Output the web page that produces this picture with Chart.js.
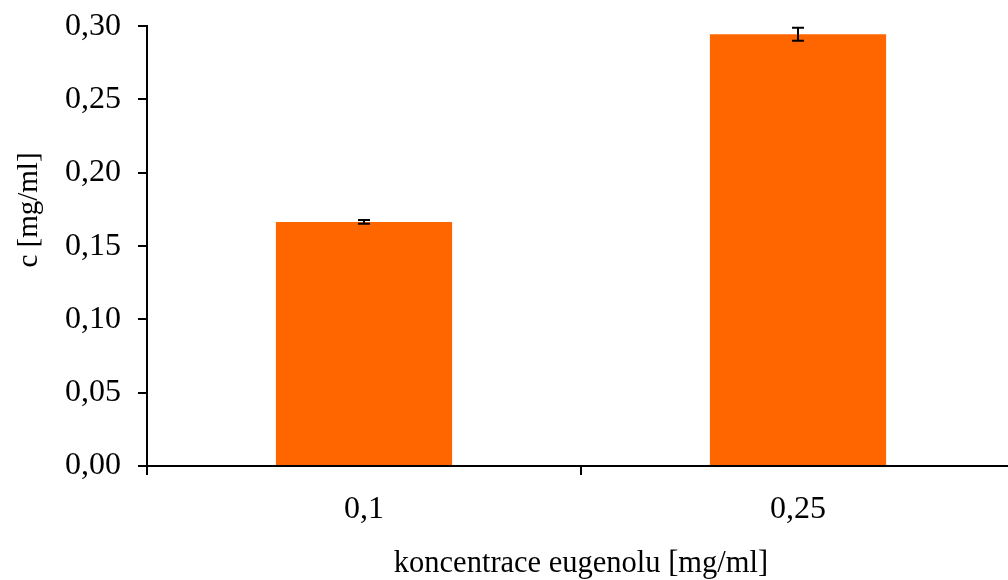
<!DOCTYPE html>
<html>
<head>
<meta charset="utf-8">
<script src="https://cdn.jsdelivr.net/npm/chart.js@4/dist/chart.umd.min.js"></script>
<style>
  html, body { margin: 0; padding: 0; background: #fff; overflow: hidden; }
  #wrap { width: 1016px; height: 580px; overflow: hidden; }
  #chart { display: block; margin-top: -10px; }
</style>
</head>
<body>
<div id="wrap"><canvas id="chart" width="1016" height="590"></canvas></div>
<script>
/* data */
const categories = ["0,1", "0,25"];
const values = [0.1665, 0.2945];
const errors = [0.0013, 0.0045];
const yTicks = [0, 0.05, 0.10, 0.15, 0.20, 0.25, 0.30];
const xTitle = "koncentrace eugenolu [mg/ml]";
const yTitle = "c [mg/ml]";

const FONT = "'Liberation Serif', 'Times New Roman', serif";
const fmt = v => v.toFixed(2).replace(".", ",");

/* error bars drawn from the y scale */
const errorBars = {
    id: "errorBars",
    afterDatasetsDraw(chart) {
        const ctx = chart.ctx;
        const y = chart.scales.y;
        const meta = chart.getDatasetMeta(0);
        ctx.save();
        ctx.strokeStyle = "#000";
        ctx.lineWidth = 2;
        meta.data.forEach((bar, i) => {
            const top = y.getPixelForValue(values[i] + errors[i]);
            const bot = y.getPixelForValue(values[i] - errors[i]);
            ctx.beginPath();
            ctx.moveTo(bar.x, top); ctx.lineTo(bar.x, bot);
            ctx.moveTo(bar.x - 6, top); ctx.lineTo(bar.x + 6, top);
            ctx.moveTo(bar.x - 6, bot); ctx.lineTo(bar.x + 6, bot);
            ctx.stroke();
        });
        ctx.restore();
    }
};

/* y title placed like the reference (not centred on the plot) */
const yTitlePlugin = {
    id: "yTitle",
    afterDraw(chart) {
        const ctx = chart.ctx;
        ctx.save();
        ctx.translate(29, 220);
        ctx.rotate(-Math.PI / 2);
        ctx.font = "29px " + FONT;
        ctx.fillStyle = "#000";
        ctx.textAlign = "center";
        ctx.textBaseline = "middle";
        ctx.fillText(yTitle, 0, 0);
        ctx.restore();
    }
};

new Chart(document.getElementById("chart"), {
    type: "bar",
    data: {
        labels: categories,
        datasets: [{
            data: values,
            backgroundColor: "#ff6600",
            borderWidth: 0,
            categoryPercentage: 1,
            barPercentage: 0.406
        }]
    },
    options: {
        responsive: false,
        animation: false,
        events: [],
        layout: { padding: { top: 16, right: 1, left: 0, bottom: 0 } },
        plugins: { legend: { display: false }, tooltip: { enabled: false } },
        scales: {
            x: {
                grid: { display: true, drawOnChartArea: false, offset: true, color: "#000", tickLength: 9, lineWidth: 2 },
                border: { display: true, color: "#000", width: 2 },
                ticks: { color: "#000", font: { family: FONT, size: 32 }, padding: 15 },
                title: { display: true, text: xTitle, color: "#000", font: { family: FONT, size: 30.5 }, padding: { top: 0, bottom: -2 } },
                afterFit: s => { s.height = 114; }
            },
            y: {
                min: 0, max: 0.3,
                afterBuildTicks: s => { s.ticks = yTicks.map(v => ({ value: v })); },
                grid: { display: true, drawOnChartArea: false, color: "#000", tickLength: 9, lineWidth: 2 },
                border: { display: true, color: "#000", width: 2 },
                ticks: { color: "#000", font: { family: FONT, size: 32 }, padding: 17, callback: v => fmt(v) },
                afterFit: s => { s.width = 147; }
            }
        }
    },
    plugins: [errorBars, yTitlePlugin]
});
</script>
</body>
</html>
